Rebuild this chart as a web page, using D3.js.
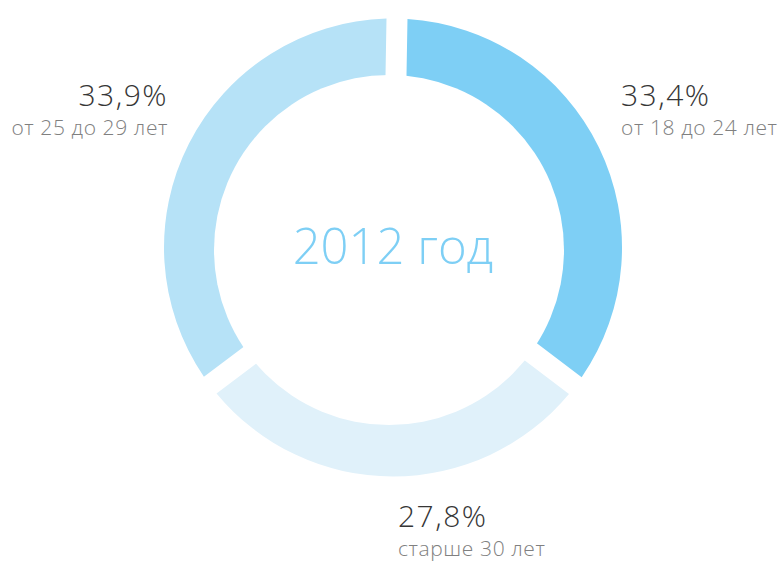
<!DOCTYPE html>
<html>
<head>
<meta charset="utf-8">
<script src="https://cdn.jsdelivr.net/npm/d3@7.9.0/dist/d3.min.js"></script>
<style>
  html, body { margin: 0; padding: 0; background: #fff; }
  svg { display: block; font-family: "Open Sans", sans-serif; }
</style>
</head>
<body>
<svg id="chart" width="784" height="565"></svg>
<script>
// data
const groups = ["от 18 до 24 лет", "старше 30 лет", "от 25 до 29 лет"];
const shares = [33.4, 27.8, 33.9];
const shareLabels = ["33,4%", "27,8%", "33,9%"];
const title = "2012 год";

const colors = ["#7ecff5", "#e0f1fa", "#b6e2f7"];

const width = 784, height = 565;
const cx = 393, cy = 247.5;
const outerR = 229, innerR = 165;
const gap = 21;
const rot = 1 * Math.PI / 180; // slight turn to match the original

const svg = d3.select("#chart");

const pie = d3.pie().sort(null).value(d => d)
  .startAngle(rot).endAngle(2 * Math.PI + rot)
  .padAngle(gap / outerR);
const arc = d3.arc().innerRadius(innerR).outerRadius(outerR).padRadius(outerR);
const color = d3.scaleOrdinal().domain(groups).range(colors);

const g = svg.append("g").attr("transform", `translate(${cx},${cy})`);

g.selectAll("path")
  .data(pie(shares))
  .enter().append("path")
  .attr("d", arc)
  .attr("fill", (d, i) => color(groups[i]));

// the hole is a bit off-centre in the original
svg.append("circle")
  .attr("cx", 389).attr("cy", 250).attr("r", 175)
  .attr("fill", "#fff");

svg.append("text")
  .attr("x", cx).attr("y", 264)
  .attr("text-anchor", "middle")
  .attr("font-size", 49)
  .attr("font-weight", 300)
  .attr("fill", "#7ecff5")
  .text(title);

// label placement
const labelPos = [
  { x: 621, y: 106, anchor: "start" },
  { x: 398, y: 527, anchor: "start" },
  { x: 168, y: 106, anchor: "end" }
];

const labels = svg.selectAll("g.label")
  .data(groups)
  .enter().append("g")
  .attr("class", "label")
  .attr("transform", (d, i) => `translate(${labelPos[i].x},${labelPos[i].y})`)
  .attr("text-anchor", (d, i) => labelPos[i].anchor);

labels.append("text")
  .attr("font-size", 30)
  .attr("font-weight", 300)
  .attr("letter-spacing", 1.5)
  .attr("fill", "#363636")
  .text((d, i) => shareLabels[i]);

labels.append("text")
  .attr("y", 28.5)
  .attr("font-size", 21)
  .attr("font-weight", 300)
  .attr("letter-spacing", 0.6)
  .attr("fill", "#808080")
  .text(d => d);
</script>
</body>
</html>
